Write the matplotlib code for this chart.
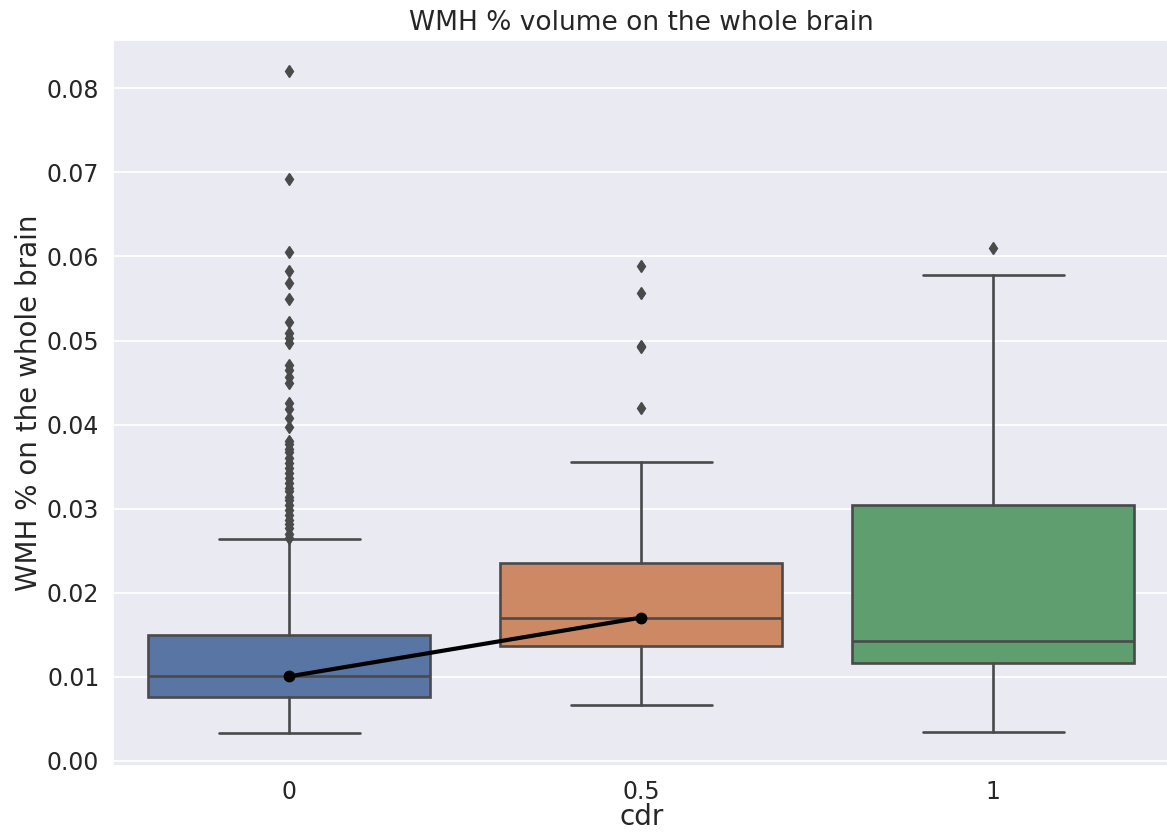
import matplotlib
matplotlib.use("Agg")
import matplotlib.pyplot as plt
import seaborn as sns

sns.set_theme(style="darkgrid")
plt.rcParams["font.family"] = ["DejaVu Sans"]

# CDR groups
categories = ["0", "0.5", "1"]

# box-plot summaries per group
q1 = [0.00757, 0.01364, 0.01165]
medians = [0.01006, 0.01705, 0.01424]
q3 = [0.01502, 0.02360, 0.03045]
whisker_low = [0.00329, 0.00663, 0.00345]
whisker_high = [0.02635, 0.03558, 0.05779]

# outliers per group
outliers_0 = [
    0.08206, 0.06920, 0.06050, 0.05830, 0.05680, 0.05500, 0.05220,
    0.05090, 0.05030, 0.04970, 0.04710, 0.04650, 0.04570, 0.04500,
    0.04260, 0.04180, 0.04080, 0.03970,
    0.03810, 0.03765, 0.03715, 0.03670, 0.03600, 0.03540, 0.03480,
    0.03420, 0.03360, 0.03300, 0.03250, 0.03205, 0.03145, 0.03100,
    0.03040, 0.02980, 0.02920, 0.02860, 0.02815, 0.02765, 0.02705,
    0.02650,
]
outliers_05 = [0.05890, 0.05570, 0.04940, 0.04920, 0.04200]
outliers_1 = [0.06100]

box_colors = ["#5875A4", "#CC8963", "#5F9E6E"]
line_gray = "#4a4a4a"
text_color = "#262626"

stats = []
for i, lab in enumerate(categories):
    stats.append({
        "label": lab,
        "q1": q1[i],
        "med": medians[i],
        "q3": q3[i],
        "whislo": whisker_low[i],
        "whishi": whisker_high[i],
        "fliers": [outliers_0, outliers_05, outliers_1][i],
    })

fig = plt.figure(figsize=(11.67, 8.32), dpi=100)
ax = fig.add_axes([0.097, 0.079, 0.905, 0.873])

lw = 1.9
bp = ax.bxp(
    stats,
    positions=range(len(categories)),
    widths=0.8,
    patch_artist=True,
    boxprops=dict(edgecolor=line_gray, linewidth=lw),
    medianprops=dict(color=line_gray, linewidth=lw),
    whiskerprops=dict(color=line_gray, linewidth=lw),
    capprops=dict(color=line_gray, linewidth=lw),
    flierprops=dict(marker="d", markerfacecolor=line_gray,
                    markeredgecolor=line_gray, markersize=6.5),
)
for patch, c in zip(bp["boxes"], box_colors):
    patch.set_facecolor(c)

# median trend between the first two groups
ax.plot([0, 1], medians[:2], color="black", linewidth=3,
        marker="o", markersize=7.5, zorder=5)

ax.set_xlim(-0.5, 2.5)
ax.set_ylim(-0.00063, 0.08575)
ax.set_yticks([0.00, 0.01, 0.02, 0.03, 0.04, 0.05, 0.06, 0.07, 0.08])
ax.set_yticklabels([f"{v:.2f}" for v in ax.get_yticks()])
ax.xaxis.grid(False)
ax.yaxis.grid(True, color="white", linewidth=1.3)
ax.tick_params(axis="y", labelsize=17, colors=text_color, pad=4)
ax.tick_params(axis="x", labelsize=17, colors=text_color, pad=4)

ax.set_title("WMH % volume on the whole brain", fontsize=19,
             color=text_color, pad=7)
ax.set_xlabel("cdr", fontsize=20, color=text_color, labelpad=-1)
ax.set_ylabel("WMH % on the whole brain", fontsize=20, color=text_color,
              labelpad=3)

fig.savefig("out.png", dpi=100)
